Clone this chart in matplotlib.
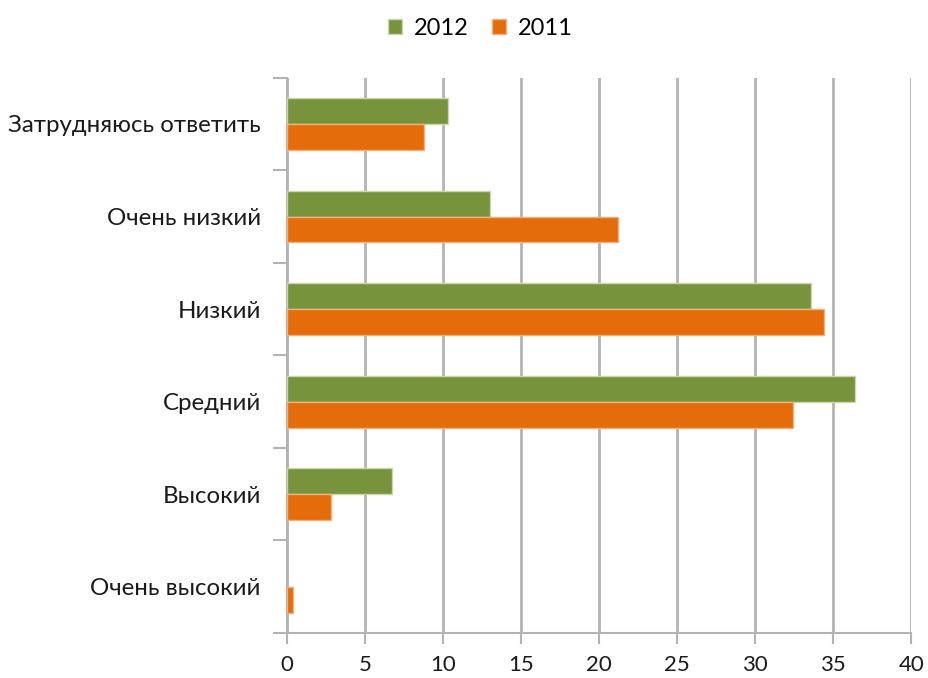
import numpy as np
import matplotlib.pyplot as plt

plt.rcParams['font.family'] = ['Lato', 'DejaVu Sans']

categories = ['Затрудняюсь ответить', 'Очень низкий', 'Низкий', 'Средний', 'Высокий', 'Очень высокий']
vals_2012 = [10.3, 13.0, 33.6, 36.4, 6.7, 0.0]
vals_2011 = [8.8, 21.2, 34.4, 32.4, 2.8, 0.4]

green = '#77933C'
orange = '#E46C0A'
grid_col = '#B3B3B3'

fig = plt.figure(figsize=(9.29, 6.78), dpi=100)
ax = fig.add_axes([0.309, 0.0664, 0.672, 0.819])

n = len(categories)
y = np.arange(n)
h = 0.28
lw12 = [1 if v > 0 else 0 for v in vals_2012]
lw11 = [1 if v > 0 else 0 for v in vals_2011]
ax.barh(y - h / 2, vals_2012, height=h, color=green, edgecolor='#C9D6B0', linewidth=lw12, label='2012', zorder=3)
ax.barh(y + h / 2, vals_2011, height=h, color=orange, edgecolor='#F2B07E', linewidth=lw11, label='2011', zorder=3)

ax.set_xlim(0, 40)
ax.set_ylim(n - 0.5, -0.5)
ax.set_xticks(np.arange(0, 41, 5))
ax.xaxis.grid(True, color=grid_col, linewidth=2, zorder=0)

ax.set_yticks(y)
ax.set_yticklabels(categories, fontsize=17.3, color='#1a1a1a')
ax.tick_params(axis='y', length=0, pad=19)
ax.set_yticks(np.arange(-0.5, n, 1), minor=True)
ax.tick_params(axis='y', which='minor', length=10, width=1.5, color=grid_col, direction='out')
ax.tick_params(axis='x', length=8, width=1.5, color=grid_col, labelsize=16, labelcolor='#1a1a1a', pad=8)

for s in ['top', 'right']:
    ax.spines[s].set_visible(False)
for s in ['left', 'bottom']:
    ax.spines[s].set_color(grid_col)
    ax.spines[s].set_linewidth(1.5)

fig.legend(loc='upper center', bbox_to_anchor=(0.517, 1.005), ncol=2, frameon=False,
           fontsize=17, handlelength=0.6, handleheight=0.6, columnspacing=1.0, handletextpad=0.5)

fig.savefig('out.png', dpi=100)
